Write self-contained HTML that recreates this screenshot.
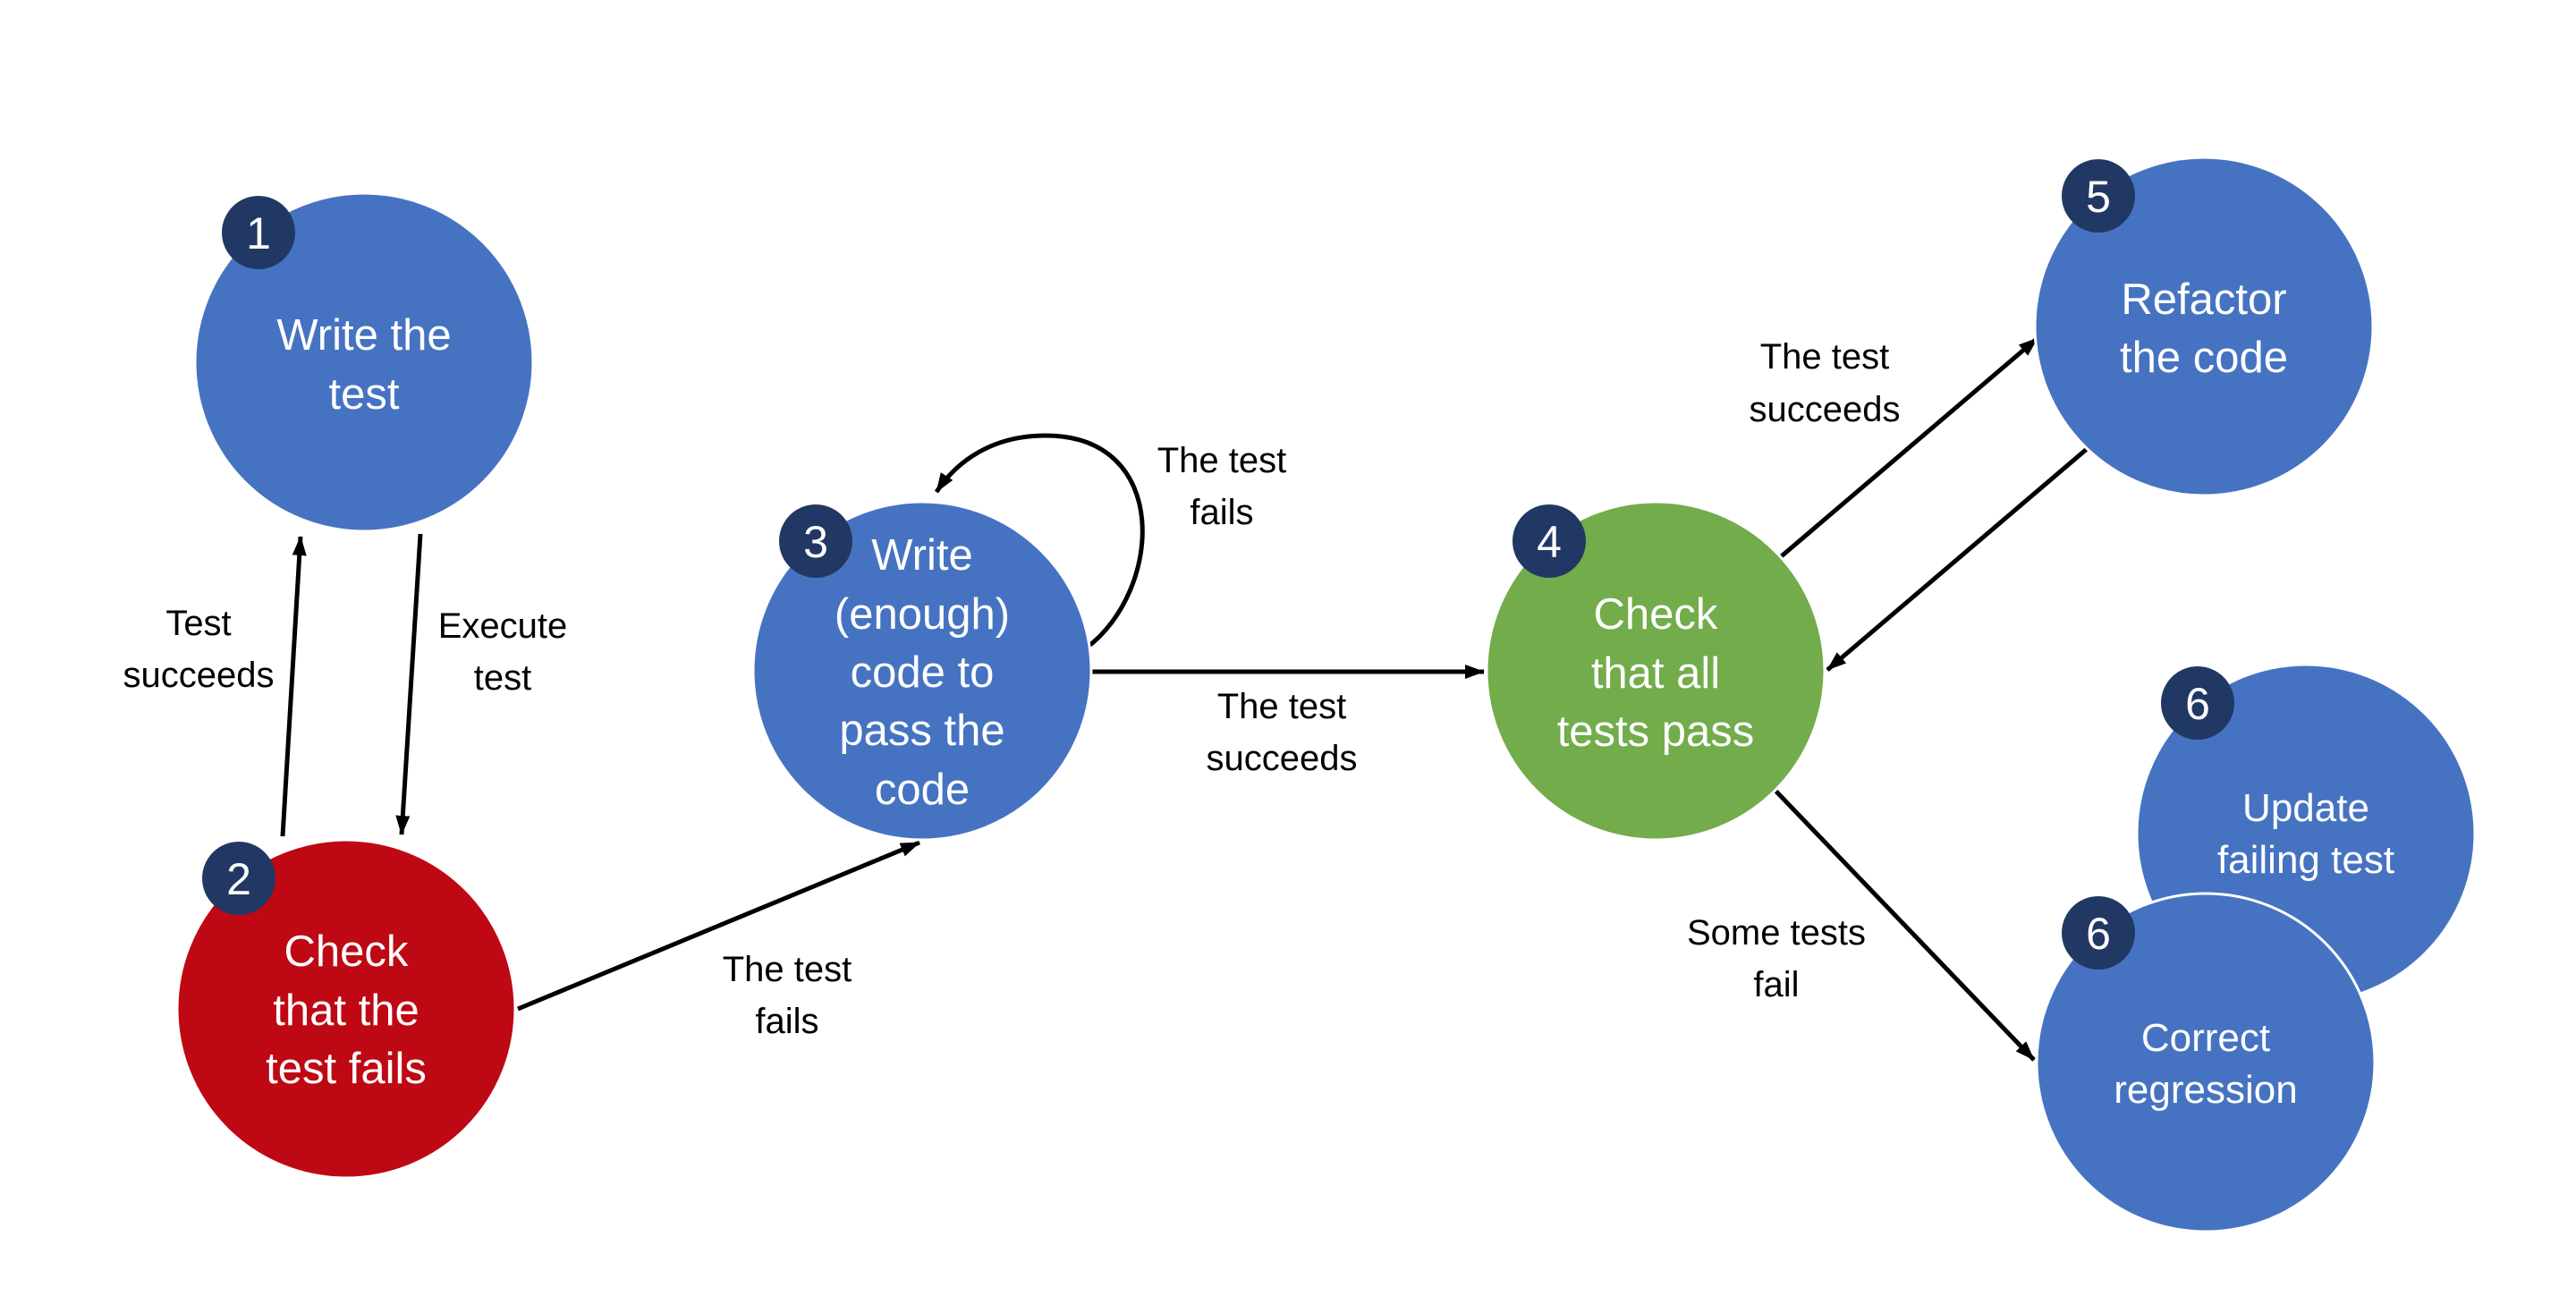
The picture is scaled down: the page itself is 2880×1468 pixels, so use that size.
<!DOCTYPE html>
<html><head><meta charset="utf-8"><style>
html,body{margin:0;padding:0;background:#fff;}
svg{display:block;}
text{font-family:"Liberation Sans",sans-serif;}
</style></head><body>
<svg width="2880" height="1468" viewBox="0 0 2880 1468" xmlns="http://www.w3.org/2000/svg">
<defs>
<marker id="ah" markerWidth="5" markerHeight="5" refX="4.2" refY="2.5" orient="auto" markerUnits="strokeWidth">
<path d="M0,0.9 L4.4,2.5 L0,4.1 Z" fill="#000"/>
</marker>
</defs>
<g stroke="#000" stroke-width="5" fill="none" marker-end="url(#ah)">
<line x1="316" y1="935" x2="336" y2="600"/>
<line x1="470" y1="597" x2="449" y2="933"/>
<line x1="579" y1="1128" x2="1028" y2="942"/>
<path d="M1215,724 C1300,660 1310,487 1169,487 C1110,487 1070,515 1047,550"/>
<line x1="1219" y1="751" x2="1659" y2="751"/>
<line x1="1988" y1="625" x2="2278" y2="378"/>
<line x1="2333" y1="502" x2="2043" y2="749"/>
<line x1="1985" y1="884" x2="2274" y2="1185"/>
</g>
<g stroke="#fff" stroke-width="3">
<circle cx="407" cy="405" r="189" fill="#4673C1"/>
<circle cx="387" cy="1128" r="189" fill="#BE0914"/>
<circle cx="1031" cy="750" r="189" fill="#4673C1"/>
<circle cx="1851" cy="750" r="189" fill="#72AC4B"/>
<circle cx="2464" cy="365" r="189" fill="#4673C1"/>
<circle cx="2578" cy="932" r="189" fill="#4673C1"/>
<circle cx="2466" cy="1188" r="189" fill="#4673C1"/>
</g>
<g fill="#213864">
<circle cx="289" cy="260" r="41"/>
<circle cx="267" cy="982" r="41"/>
<circle cx="912" cy="605" r="41"/>
<circle cx="1732" cy="605" r="41"/>
<circle cx="2346" cy="219" r="41"/>
<circle cx="2457" cy="786" r="41"/>
<circle cx="2346" cy="1043" r="41"/>
</g>
<g fill="#fff" font-size="50" text-anchor="middle">
<text x="289" y="278">1</text>
<text x="267" y="1000">2</text>
<text x="912" y="623">3</text>
<text x="1732" y="623">4</text>
<text x="2346" y="237">5</text>
<text x="2457" y="804">6</text>
<text x="2346" y="1061">6</text>
</g>
<g fill="#fff" font-size="49" text-anchor="middle">
<text x="407" y="391">Write the</text>
<text x="407" y="457">test</text>
<text x="387" y="1080">Check</text>
<text x="387" y="1146">that the</text>
<text x="387" y="1211">test fails</text>
<text x="1031" y="637">Write</text>
<text x="1031" y="703">(enough)</text>
<text x="1031" y="768">code to</text>
<text x="1031" y="833">pass the</text>
<text x="1031" y="899">code</text>
<text x="1851" y="703">Check</text>
<text x="1851" y="769">that all</text>
<text x="1851" y="834">tests pass</text>
<text x="2464" y="351">Refactor</text>
<text x="2464" y="416">the code</text>
</g>
<g fill="#fff" font-size="44" text-anchor="middle">
<text x="2578" y="918">Update</text>
<text x="2578" y="976">failing test</text>
<text x="2466" y="1175">Correct</text>
<text x="2466" y="1233">regression</text>
</g>
<g fill="#000" font-size="40" text-anchor="middle">
<text x="222" y="710">Test</text>
<text x="222" y="768">succeeds</text>
<text x="562" y="713">Execute</text>
<text x="562" y="771">test</text>
<text x="1366" y="528">The test</text>
<text x="1366" y="586">fails</text>
<text x="880" y="1097">The test</text>
<text x="880" y="1155">fails</text>
<text x="1433" y="803">The test</text>
<text x="1433" y="861">succeeds</text>
<text x="2040" y="412">The test</text>
<text x="2040" y="471">succeeds</text>
<text x="1986" y="1056">Some tests</text>
<text x="1986" y="1114">fail</text>
</g>
</svg>
</body></html>
